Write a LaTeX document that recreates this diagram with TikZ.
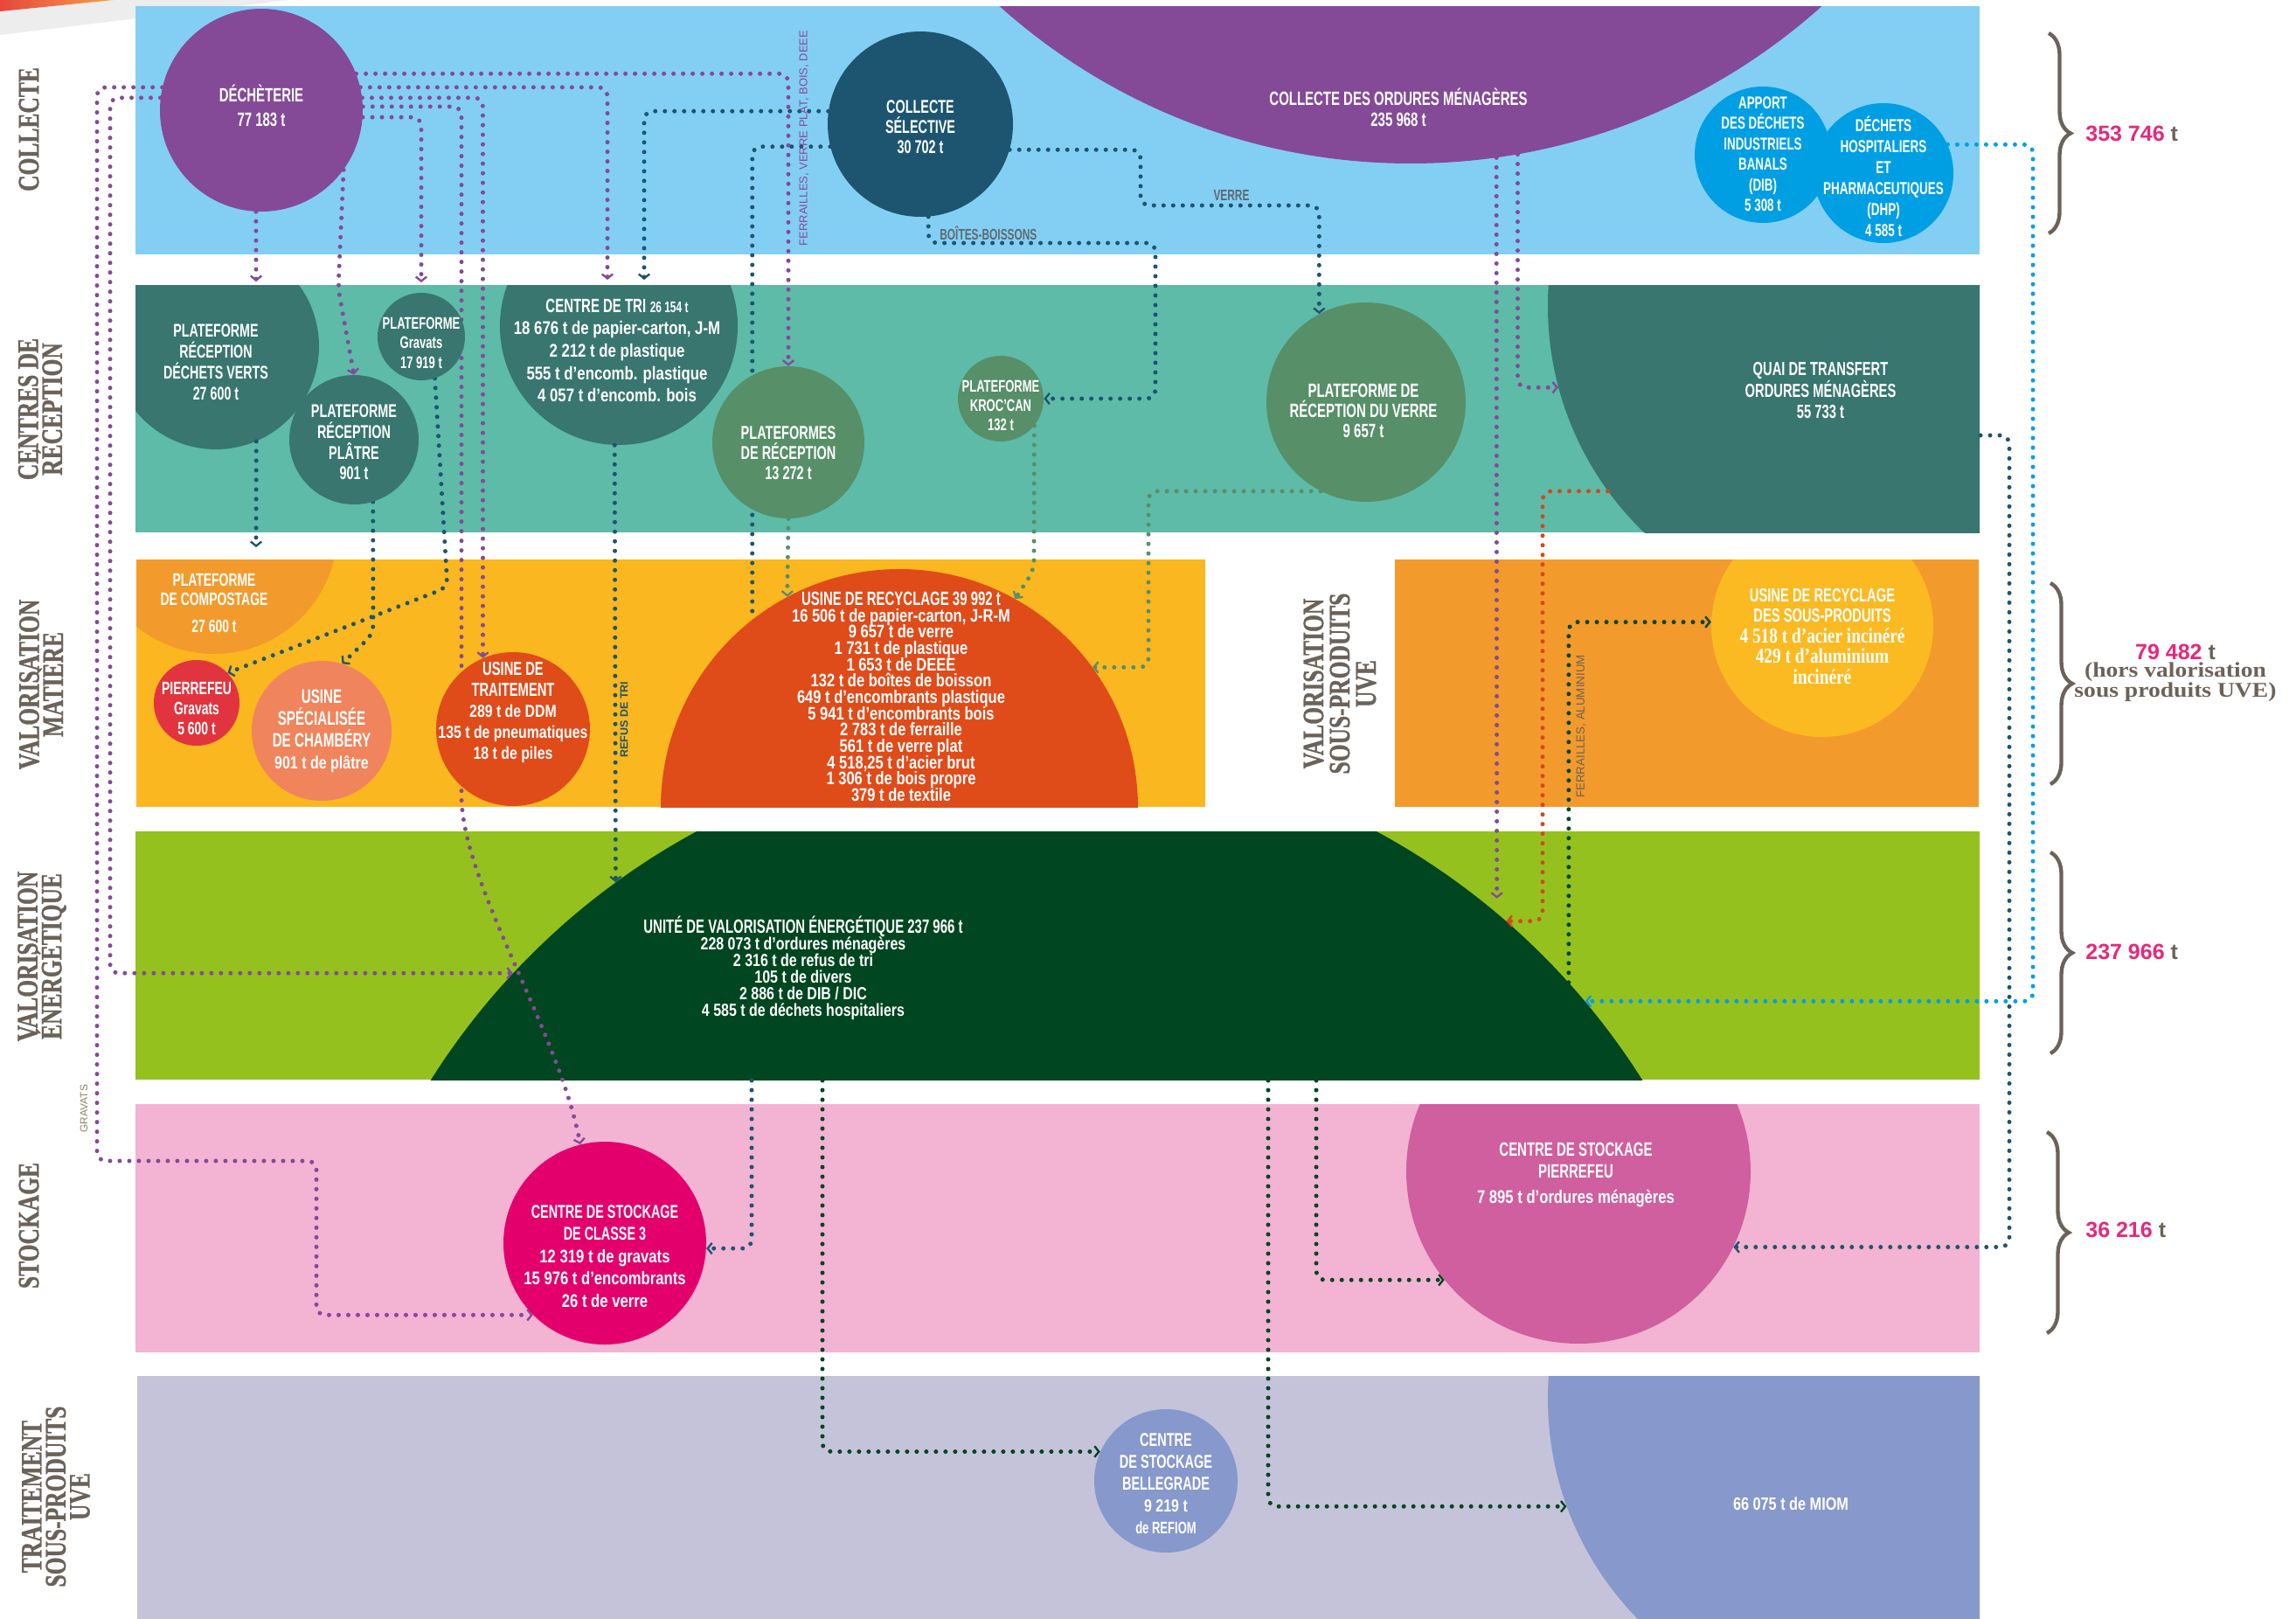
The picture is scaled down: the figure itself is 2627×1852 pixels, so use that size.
\documentclass[tikz,border=0pt]{standalone}
\usepackage{fontspec}
\usetikzlibrary{arrows.meta,decorations.pathreplacing}
\newfontfamily\capsf[FakeStretch=0.68]{Liberation Sans Bold}
\newfontfamily\lowf[FakeStretch=0.8]{Liberation Sans Bold}
\newfontfamily\sidef[FakeStretch=0.75,FakeBold=1]{Liberation Serif Bold}
\newfontfamily\serw[FakeStretch=1.15]{Liberation Serif Bold}
\newfontfamily\serc[FakeStretch=0.8]{Liberation Serif Bold}
\newfontfamily\plainf{Liberation Sans}
\newfontfamily\plainbf{Liberation Sans Bold}
\newcommand\fsz[2]{\fontsize{#1}{#2}\selectfont\lineskiplimit=-30pt\relax}
\definecolor{cBa}{HTML}{83CFF4}
\definecolor{cBb}{HTML}{5DBBA8}
\definecolor{cBc}{HTML}{FAB71F}
\definecolor{cBcr}{HTML}{F39A2C}
\definecolor{cBd}{HTML}{95C11F}
\definecolor{cBe}{HTML}{F3B3D3}
\definecolor{cBf}{HTML}{C5C3DA}
\definecolor{cPur}{HTML}{844A98}
\definecolor{cCS}{HTML}{1D5570}
\definecolor{cTeal}{HTML}{38766F}
\definecolor{cGrn}{HTML}{578F69}
\definecolor{cBlue}{HTML}{009FE3}
\definecolor{cOra}{HTML}{F39A2D}
\definecolor{cRed}{HTML}{E2343E}
\definecolor{cSal}{HTML}{F0845C}
\definecolor{cRO}{HTML}{E04B1A}
\definecolor{cYel}{HTML}{FBBA22}
\definecolor{cUVE}{HTML}{004620}
\definecolor{cMag}{HTML}{E3006D}
\definecolor{cPnk}{HTML}{CF5F9E}
\definecolor{cLav}{HTML}{8698CC}
\definecolor{cGray}{HTML}{6B6259}
\definecolor{cNum}{HTML}{E6287A}
\definecolor{cLab}{HTML}{5E6A71}
\definecolor{cRL}{HTML}{D2491C}
\definecolor{cOli}{HTML}{8C8A5E}
\definecolor{cWedgeA}{HTML}{E8463C}
\definecolor{cWedgeB}{HTML}{F5A04A}
\pgfdeclarelayer{bg}
\pgfdeclarelayer{conn}
\pgfsetlayers{bg,conn,main}
\begin{document}
\begin{tikzpicture}[x=0.6pt,y=-0.6pt,
  disc/.style={circle,inner sep=0pt,minimum size=#1*1.2pt},
  wt/.style={text=white,align=center,inner sep=0pt},
  flow/.style={line width=3pt,dash pattern=on 0pt off 6.6pt,line cap=round,rounded corners=6pt},
  tipd/.style={-{Straight Barb[length=3pt,width=7.5pt,line width=1.4pt]}},
  sidelab/.style={rotate=90,text=cGray,align=center,inner sep=0pt,font=\sidef\fsz{20.4}{16.5}},
  vlab/.style={rotate=90,inner sep=0pt},
  brc/.style={cGray,line width=2.6pt,decorate,decoration={brace,amplitude=15pt}},
  tot/.style={anchor=west,inner sep=0pt,font=\plainbf\fsz{15}{18}},
]
\useasboundingbox (0,0) rectangle (2627,1852);
\begin{pgfonlayer}{bg}
\fill[white] (0,0) rectangle (2627,1852);
\fill[black!7] (0,13) -- (130,0) -- (330,0) -- (0,40) -- cycle;
\shade[left color=cWedgeA,right color=cWedgeB] (0,0) -- (130,0) -- (0,13) -- cycle;
% band 1
\fill[cBa] (155,7) rectangle (2265,291);
\begin{scope}\clip (155,7) rectangle (2265,291);
  \fill[cPur] (1614,-518) circle[radius=705];
\end{scope}
% band 2
\fill[cBb] (155,326) rectangle (2265,609);
\begin{scope}\clip (155,326) rectangle (2265,609);
  \fill[cTeal] (247,396) circle[radius=118];
  \fill[cTeal] (708,373) circle[radius=136];
  \fill[cTeal] (2131,350) circle[radius=360];
\end{scope}
% band 3
\fill[cBc] (156,640) rectangle (1379,923);
\begin{scope}\clip (156,640) rectangle (1379,923);
  \fill[cOra] (245,607) circle[radius=141];
  \fill[cRO] (1029,924) circle[radius=273];
\end{scope}
\fill[cBcr] (1596,640) rectangle (2264,923);
\begin{scope}\clip (1596,640) rectangle (2264,923);
  \fill[cYel] (2085,716) circle[radius=127];
\end{scope}
% band 4
\fill[cBd] (155,951) rectangle (2265,1235);
\begin{scope}\clip (155,951) rectangle (2265,1235);
  \fill[cUVE] (1186,1672) circle[radius=819];
\end{scope}
% band 5
\fill[cBe] (155,1263) rectangle (2265,1547);
\begin{scope}\clip (155,1263) rectangle (2265,1547);
  \fill[cPnk] (1806,1340) circle[radius=197];
\end{scope}
% band 6
\fill[cBf] (157,1574) rectangle (2265,1852);
\begin{scope}\clip (157,1574) rectangle (2265,1852);
  \fill[cLav] (2131,1600) circle[radius=360];
\end{scope}
\end{pgfonlayer}

% invisible name holders for the clipped shapes
\node[disc=705] (com) at (1614,-518) {};
\node[disc=118] (pdv) at (247,396) {};
\node[disc=136] (ctri) at (708,373) {};
\node[disc=360] (quai) at (2131,350) {};
\node[disc=141] (comp) at (245,607) {};
\node[disc=273] (urec) at (1029,924) {};
\node[disc=127] (usp) at (2085,716) {};
\node[disc=819] (uve) at (1186,1672) {};
\node[disc=197] (spf) at (1806,1340) {};
\node[disc=360] (miom) at (2131,1600) {};

% visible circles
\node[disc=116,fill=cPur] (dech) at (299,126) {};
\node[disc=106,fill=cCS] (cs) at (1053,142) {};
\node[disc=78,fill=cBlue] (dib) at (2017,177) {};
\node[disc=80,fill=cBlue] (dhp) at (2155,198) {};
\node[disc=50,fill=cTeal] (pgrav) at (482,385) {};
\node[disc=74,fill=cTeal] (pplat) at (405,503) {};
\node[disc=87,fill=cGrn] (pfr) at (902,506) {};
\node[disc=49,fill=cGrn] (kroc) at (1145,456) {};
\node[disc=114,fill=cGrn] (pverre) at (1563,460) {};
\node[disc=49,fill=cRed] (pgr) at (225,804) {};
\node[disc=80,fill=cSal] (cham) at (368,836) {};
\node[disc=88,fill=cRO] (utrait) at (587,834) {};
\node[disc=116,fill=cMag] (cs3) at (692,1422) {};
\node[disc=82,fill=cLav] (bel) at (1334,1694) {};

% coordinates for free ends
\coordinate (ctriA) at (695,320);
\coordinate (ctriB) at (737,320);
\coordinate (pdvA) at (293,322);
\coordinate (compA) at (293,626);
\coordinate (lx1) at (126,600);
\coordinate (c8a) at (111,1328);
\coordinate (c8b) at (362,1328);
\coordinate (d4a) at (528,900);
\coordinate (d6a) at (387,330);
\coordinate (c11a) at (1322,278);
\coordinate (c12a) at (1305,235);
\coordinate (c15) at (1765,800);
\coordinate (quaiR) at (2266,498);
\coordinate (c16) at (2299,900);
\coordinate (c17) at (2326,700);
\coordinate (c18) at (1183,652);
\coordinate (c19) at (1314,700);
\coordinate (c21) at (512,672);
\coordinate (c22) at (427,725);
\coordinate (uvB1) at (860,1236);
\coordinate (uvB2) at (1451,1236);
\coordinate (uvB3) at (1506,1236);
\coordinate (uvB4) at (941,1236);

% texts
\node[wt,font=\capsf\fsz{13.2}{16.8}] (t-dech) at (299,121) {DÉCHÈTERIE\\77 183 t};
\node[wt,font=\capsf\fsz{12.7}{13.8}] (t-cs) at (1053,145) {COLLECTE\\SÉLECTIVE\\30 702 t};
\node[wt,font=\capsf\fsz{13.2}{14}] (t-com) at (1600,123) {COLLECTE DES ORDURES MÉNAGÈRES\\235 968 t};
\node[wt,font=\capsf\fsz{11.8}{14.1}] (t-dib) at (2017,176) {APPORT\\DES DÉCHETS\\INDUSTRIELS\\BANALS\\(DIB)\\5 308 t};
\node[wt,font=\capsf\fsz{11.9}{14.4}] (t-dhp) at (2155,202) {DÉCHETS\\HOSPITALIERS\\ET\\PHARMACEUTIQUES\\(DHP)\\4 585 t};
\node[wt,font=\capsf\fsz{12.6}{14.4}] (t-pdv) at (247,414) {PLATEFORME\\RÉCEPTION\\DÉCHETS VERTS\\27 600 t};
\node[wt,font=\capsf\fsz{11.5}{13.5}] (t-pgrav) at (482,392) {PLATEFORME\\Gravats\\17 919 t};
\node[wt,font=\capsf\fsz{12.7}{14.2}] (t-pplat) at (405,506) {PLATEFORME\\RÉCEPTION\\PLÂTRE\\901 t};
\node[wt,font=\lowf\fsz{12.6}{15.4}] (t-ctri) at (706,401) {{\capsf\fsz{13.2}{15.4}CENTRE DE TRI} {\capsf\fsz{10.5}{15.4}26 154 t}\\18 676 t de papier-carton, J-M\\2 212 t de plastique\\555 t d’encomb. plastique\\4 057 t d’encomb. bois};
\node[wt,font=\capsf\fsz{12.8}{13.8}] (t-pfr) at (902,518) {PLATEFORMES\\DE RÉCEPTION\\13 272 t};
\node[wt,font=\capsf\fsz{11.5}{13.2}] (t-kroc) at (1145,464) {PLATEFORME\\KROC’CAN\\132 t};
\node[wt,font=\capsf\fsz{13.2}{13.8}] (t-pverre) at (1560,470) {PLATEFORME DE\\RÉCEPTION DU VERRE\\9 657 t};
\node[wt,font=\capsf\fsz{13}{14.7}] (t-quai) at (2083,447) {QUAI DE TRANSFERT\\ORDURES MÉNAGÈRES\\55 733 t};
\node[wt,font=\capsf\fsz{12.3}{13.2}] (t-comp) at (245,690) {PLATEFORME\\DE COMPOSTAGE\\[5pt]27 600 t};
\node[wt,font=\capsf\fsz{12.3}{13.8}] (t-pgr) at (225,811) {PIERREFEU\\Gravats\\5 600 t};
\node[wt,font=\capsf\fsz{13.4}{15}] (t-cham) at (368,836) {USINE\\SPÉCIALISÉE\\DE CHAMBÉRY\\{\lowf\fsz{12}{15}901 t de plâtre}};
\node[wt,font=\lowf\fsz{11.9}{14.3}] (t-utrait) at (587,815) {{\capsf\fsz{13}{14.3}USINE DE}\\{\capsf\fsz{13}{14.3}TRAITEMENT}\\289 t de DDM\\135 t de pneumatiques\\18 t de piles};
\node[wt,font=\lowf\fsz{12.4}{11.2}] (t-urec) at (1031,797) {{\capsf\fsz{13.2}{11.2}USINE DE RECYCLAGE 39 992 t}\\16 506 t de papier-carton, J-R-M\\9 657 t de verre\\1 731 t de plastique\\1 653 t de DEEE\\132 t de boîtes de boisson\\649 t d’encombrants plastique\\5 941 t d’encombrants bois\\2 783 t de ferraille\\561 t de verre plat\\4 518,25 t d’acier brut\\1 306 t de bois propre\\379 t de textile};
\node[wt,font=\capsf\fsz{13}{14.1}] (t-usp) at (2085,728) {USINE DE RECYCLAGE\\DES SOUS-PRODUITS\\{\serc\fsz{14.5}{14.1}4 518 t d’acier incinéré}\\{\serc\fsz{14.5}{14.1}429 t d’aluminium}\\{\serc\fsz{14.5}{14.1}incinéré}};
\node[wt,font=\lowf\fsz{12}{11.4}] (t-uve) at (919,1107) {{\capsf\fsz{13.2}{11.4}UNITÉ DE VALORISATION ÉNERGÉTIQUE 237 966 t}\\228 073 t d’ordures ménagères\\2 316 t de refus de tri\\105 t de divers\\2 886 t de DIB / DIC\\4 585 t de déchets hospitaliers};
\node[wt,font=\capsf\fsz{12.7}{15.3}] (t-cs3) at (692,1437) {CENTRE DE STOCKAGE\\DE CLASSE 3\\{\lowf\fsz{12.5}{15.3}12 319 t de gravats}\\{\lowf\fsz{12.5}{15.3}15 976 t d’encombrants}\\{\lowf\fsz{12.5}{15.3}26 t de verre}};
\node[wt,font=\capsf\fsz{13.2}{15}] (t-spf) at (1803,1344) {CENTRE DE STOCKAGE\\PIERREFEU\\[2pt]{\lowf\fsz{12.5}{15}7 895 t d’ordures ménagères}};
\node[wt,font=\capsf\fsz{12.8}{15}] (t-bel) at (1334,1697) {CENTRE\\DE STOCKAGE\\BELLEGRADE\\{\lowf\fsz{12}{15}9 219 t}\\{\capsf\fsz{11.5}{15}de REFIOM}};
\node[wt,font=\lowf\fsz{12.2}{14}] (t-miom) at (2049,1720) {66 075 t de MIOM};

% side labels
\node[sidelab] (s1) at (33,148) {COLLECTE};
\node[sidelab] (s2) at (46,468) {CENTRES DE\\RÉCEPTION};
\node[sidelab] (s3) at (47,783) {VALORISATION\\MATIÈRE};
\node[sidelab] (s4) at (48,1094) {VALORISATION\\ÉNERGÉTIQUE};
\node[sidelab] (s5) at (33,1402) {STOCKAGE};
\node[sidelab] (s6) at (64,1712) {TRAITEMENT\\SOUS-PRODUITS\\UVE};
\node[sidelab,font=\sidef\fsz{20.4}{18}] (s7) at (1533,782) {VALORISATION\\SOUS-PRODUITS\\UVE};

% connector labels
\node[vlab,text=cPur,font=\plainf\fsz{7.8}{9}] (l-ferr) at (920,158) {FERRAILLES, VERRE PLAT, BOIS, DEEE};
\node[vlab,text=cCS,font=\plainbf\fsz{7.5}{9}] (l-refus) at (714,823) {REFUS DE TRI};
\node[vlab,text=cGray,font=\plainf\fsz{8}{9}] (l-ferral) at (1809,831) {FERRAILLES, ALUMINIUM};
\node[vlab,text=cOli,font=\plainf\fsz{7.2}{9}] (l-grav) at (96,1268) {GRAVATS};
\node[anchor=west,inner sep=0pt,text=cLab,font=\capsf\fsz{10.5}{12}] (l-boit) at (1075,267) {BOÎTES-BOISSONS};
\node[inner sep=0pt,text=cLab,font=\capsf\fsz{10.5}{12}] (l-verre) at (1409,223) {VERRE};

% totals
\node[tot] (tot1) at (2386,153) {\textcolor{cNum}{353 746}~\textcolor{cGray}{t}};
\node[align=center,inner sep=0pt] (tot2) at (2489,770) {{\plainbf\fsz{15}{13.3}\textcolor{cNum}{79 482}~\textcolor{cGray}{t}}\\{\serw\fsz{14.4}{13.3}\color{cGray}(hors valorisation}\\{\serw\fsz{14.4}{13.3}\color{cGray}sous produits UVE)}};
\node[tot] (tot3) at (2386,1089) {\textcolor{cNum}{237 966}~\textcolor{cGray}{t}};
\node[tot] (tot4) at (2386,1407) {\textcolor{cNum}{36 216}~\textcolor{cGray}{t}};

% braces
\draw[brc] (2344,38) -- (2344,267);
\draw[brc] (2346,667) -- (2346,897);
\draw[brc] (2346,975) -- (2346,1205);
\draw[brc] (2342,1295) -- (2342,1525);

\begin{pgfonlayer}{conn}
% from Dechetterie
\draw[flow,cPur,tipd] (dech.21) -| (pfr.north);
\draw[flow,cPur,tipd] (dech.13) -| (ctriA);
\draw[flow,cPur,tipd] (dech.7) -| (utrait.113);
\draw[flow,cPur,tipd] (dech.2) -| (d4a) .. controls (528,1010) and (640,1180) .. (cs3.104);
\draw[flow,cPur,tipd,shorten >=7pt] (dech.-4) -| (pgrav.north);
\draw[flow,cPur,tipd] (dech.-36) -- (d6a) -- (pplat.north);
\draw[flow,cPur,tipd] (dech.-93) -- (pdvA);
\draw[flow,cPur,tipd] (dech.173) -| (lx1) |- (uve.137);
\draw[flow,cPur,tipd] (dech.167) -| (c8a) -- (c8b) |- (cs3.-135);
% from Collecte selective
\draw[flow,cCS,tipd] (cs.172) -| (ctriB);
\draw[flow,cCS] (cs.194) -| (urec.128);
\draw[flow,cCS,tipd] (cs.-85) |- (c11a) |- (kroc.east);
\draw[flow,cCS,tipd] (cs.-16) -| (c12a) -| (pverre.118);
% from ordures menageres
\draw[flow,cPur,tipd] (com.-80) |- (quai.195);
\draw[flow,cPur,tipd,shorten >=10pt] (com.-82) -- (uve.50);
% quai de transfert
\draw[flow,cRL,tipd] (quai.216) -| (c15) |- (uve.49);
\draw[flow,cCS,tipd] (quaiR) -| (c16) |- (spf.-26);
% DHP
\draw[flow,cBlue,tipd] (dhp.24) -| (c17) |- (uve.40);
% centres de reception
\draw[flow,cGrn,tipd] (kroc.-39) -- (c18) -- (urec.61);
\draw[flow,cGrn,tipd] (pverre.-117) -| (c19) |- (urec.36);
\draw[flow,cGrn,tipd] (pfr.south) -- (urec.118);
\draw[flow,cCS,tipd] (pgrav.-72) -- (c21) -- (pgr.44);
\draw[flow,cCS,tipd] (pplat.-73) -- (c22) -- (cham.73);
\draw[flow,cCS,tipd] (pdv.-67) -- (compA);
\draw[flow,cCS,tipd] (ctri.-92) -- (uve.126);
% from UVE
\draw[flow,cUVE,tipd] (uve.42) |- (usp.178);
\draw[flow,cCS,tipd] (uvB1) |- (cs3.-3);
\draw[flow,cUVE,tipd] (uvB4) |- (bel.156);
\draw[flow,cUVE,tipd] (uvB2) |- (miom.200);
\draw[flow,cUVE,tipd] (uvB3) |- (spf.219);
\end{pgfonlayer}
\end{tikzpicture}
\end{document}
